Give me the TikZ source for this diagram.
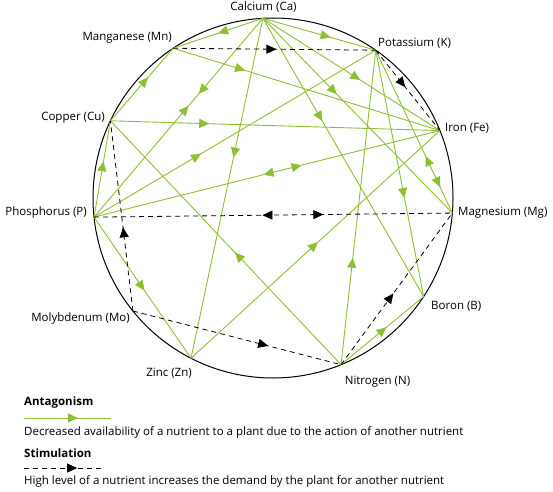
\documentclass[tikz,border=0pt]{standalone}
\usepackage{fontspec}
\setmainfont{Open Sans}
\usepackage{tikz}
\usetikzlibrary{arrows.meta, decorations.markings}
\definecolor{leafgreen}{RGB}{141,192,52}

\begin{document}
\begin{tikzpicture}[x=1pt, y=1pt,
  element/.style={font=\fontsize{11.5}{14}\selectfont, inner sep=0pt},
  legendtitle/.style={element, font=\fontsize{11.5}{14}\selectfont\bfseries},
  antag/.style={leafgreen, line width=0.9pt, postaction={decorate}},
  stim/.style={black, line width=0.8pt, dash pattern=on 5pt off 4pt, postaction={decorate}},
  fwd/.style={decoration={markings, mark=at position #1 with {\arrow{Triangle[length=10pt, width=9pt]}}}},
  bwd/.style={decoration={markings, mark=at position #1 with {\arrowreversed{Triangle[length=10pt, width=9pt]}}}}]
  \useasboundingbox (0,0) rectangle (553,491);

  % Wheel
  \coordinate (O) at (273,293);
  \draw[line width=1pt] (O) circle[radius=180];
  \foreach \el/\ang in {Ca/93.2, Mn/123.7, K/55.2, Fe/22, Cu/154.6, P/186.1,
                        Mg/-4.8, B/-33.2, Mo/218.9, Zn/242.9, N/292.2}
    \path (O) ++(\ang:180) coordinate (\el);

  % Antagonism
  \draw[antag, fwd=0.5]  (Ca) -- (Mn);
  \draw[antag, fwd=0.6]  (Ca) -- (K);
  \draw[antag, fwd=0.55] (Ca) -- (Fe);
  \draw[antag, fwd=0.39] (Ca) -- (Mg);
  \draw[antag, fwd=0.37] (Ca) -- (B);
  \draw[antag, fwd=0.41] (Ca) -- (Zn);
  \draw[antag, fwd=0.38, bwd=0.44] (Ca) -- (P);
  \draw[antag, fwd=0.27] (Mn) -- (Fe);
  \draw[antag, fwd=0.6]  (Cu) -- (Mn);
  \draw[antag, fwd=0.3]  (Cu) -- (Fe);
  \draw[antag, fwd=0.46] (N) -- (Cu);
  \draw[antag, fwd=0.58] (P) -- (Cu);
  \draw[antag, fwd=0.38] (P) -- (K);
  \draw[antag, fwd=0.6, bwd=0.49] (P) -- (Fe);
  \draw[antag, fwd=0.52] (P) -- (Zn);
  \draw[antag, fwd=0.51] (Zn) -- (Fe);
  \draw[antag, fwd=0.34] (N) -- (K);
  \draw[antag, fwd=0.55] (N) -- (B);
  \draw[antag, fwd=0.6]  (K) -- (B);
  \draw[antag, fwd=0.84, bwd=0.65] (K) -- (Mg);

  % Stimulation
  \draw[stim, fwd=0.51] (Mn) -- (K);
  \draw[stim, fwd=0.46] (K) -- (Fe);
  \draw[stim, fwd=0.64, bwd=0.47] (P) -- (Mg);
  \draw[stim, fwd=0.44] (Mo) -- (Cu);
  \draw[stim, fwd=0.65] (Mo) -- (N);
  \draw[stim, fwd=0.47] (N) -- (Mg);

  % Labels
  \node[element] (lCa) at (263.5,484) {Calcium (Ca)};
  \node[element, anchor=east] (lMn) at (172,453) {Manganese (Mn)};
  \node[element, anchor=west] (lK) at (378,448) {Potassium (K)};
  \node[element, anchor=west] (lFe) at (445,363) {Iron (Fe)};
  \node[element, anchor=east] (lCu) at (105,373) {Copper (Cu)};
  \node[element, anchor=east] (lP) at (87,278) {Phosphorus (P)};
  \node[element, anchor=west] (lMg) at (458,278) {Magnesium (Mg)};
  \node[element, anchor=west] (lB) at (431,185) {Boron (B)};
  \node[element, anchor=east] (lMo) at (130,172) {Molybdenum (Mo)};
  \node[element] (lZn) at (169,118) {Zinc (Zn)};
  \node[element] (lN) at (377.5,109) {Nitrogen (N)};

  % Legend
  \node[legendtitle, anchor=west] (antTitle) at (24,88) {Antagonism};
  \coordinate (antA) at (24,73);
  \coordinate (antB) at (111,73);
  \draw[antag, fwd=0.62] (antA) -- (antB);
  \node[element, anchor=west] (antText) at (24,59)
    {Decreased availability of a nutrient to a plant due to the action of another nutrient};
  \node[legendtitle, anchor=west] (stimTitle) at (24,38) {Stimulation};
  \coordinate (stimA) at (24,23);
  \coordinate (stimB) at (101,23);
  \draw[stim, fwd=0.69] (stimA) -- (stimB);
  \node[element, anchor=west] (stimText) at (24,10)
    {High level of a nutrient increases the demand by the plant for another nutrient};
\end{tikzpicture}
\end{document}
